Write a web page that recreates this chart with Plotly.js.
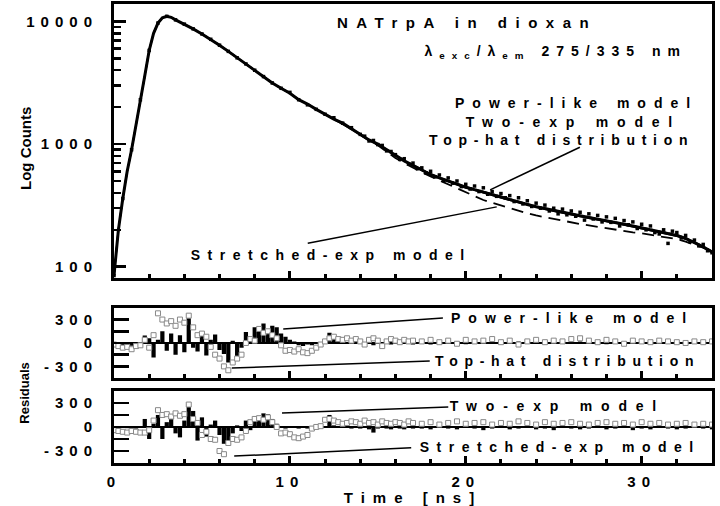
<!DOCTYPE html>
<html>
<head>
<meta charset="utf-8">
<script src="https://cdn.plot.ly/plotly-3.0.1.min.js"></script>
<style>
  body { margin: 0; background: #fff; }
  #chart { width: 720px; height: 506px; }
  [class$="tick"] text { letter-spacing: 6px; }
  text[class$="title"] { letter-spacing: 8px; }
  .annotation .annotation-text { letter-spacing: 7.5px; }
  .annotation[data-index="0"] .annotation-text,
  .annotation[data-index="1"] .annotation-text { letter-spacing: 0px; }
  .annotation[data-index="2"] .annotation-text { letter-spacing: 8.5px; }
  .annotation[data-index="3"] .annotation-text { letter-spacing: 7px; }
  .annotation[data-index="4"] .annotation-text,
  .annotation[data-index="8"] .annotation-text { letter-spacing: 8px; }
  .annotation[data-index="5"] .annotation-text,
  .annotation[data-index="10"] .annotation-text { letter-spacing: 8.8px; }
  .annotation[data-index="6"] .annotation-text,
  .annotation[data-index="9"] .annotation-text { letter-spacing: 6.7px; }
</style>
</head>
<body>
<div id="chart"></div>
<script>
// ---- decay data (counts vs time, ns) ----
const dataT = [0,0.5,1,1.5,2,2.5,3,3.5,4,4.5,5,5.5,6,6.5,7,7.5,8,8.5,9,9.5,10,10.5,11,11.5,12,12.5,13,13.5,14,
  14.25,14.5,14.75,15,15.25,15.5,15.75,16,16.25,16.5,16.75,17,17.25,17.5,17.75,18,18.25,18.5,18.75,19,19.25,19.5,19.75,20,
  20.25,20.5,20.75,21,21.25,21.5,21.75,22,22.25,22.5,22.75,23,23.25,23.5,23.75,24,24.25,24.5,24.75,25,25.25,25.5,25.75,26,
  26.25,26.5,26.75,27,27.25,27.5,27.75,28,28.25,28.5,28.75,29,29.25,29.5,29.75,30,30.25,30.5,30.75,31,31.25,31.5,31.75,32,
  32.25,32.5,32.75,33,33.25,33.5,33.75,34];
const dataCounts = [85,360,900,2300,5800,9700,11000,10300,9500,8700,7900,7150,6400,5700,5050,4500,4000,3550,3150,2850,2640,2300,2090,1920,1750,1640,1480,1360,1200,
  1160,1060,1070,990,975,880,870,820,750,760,690,700,630,640,580,600,540,560,505,530,480,500,450,470,
  430,455,410,440,390,410,375,395,365,380,340,365,325,345,310,330,300,318,285,300,270,295,265,285,
  258,278,240,270,245,262,232,255,230,248,215,238,220,232,205,222,200,215,190,185,200,155,195,190,
  172,180,160,165,148,152,135,130];

// ---- fitted model curves ----
const fitT = [0,0.25,0.5,0.75,1,1.25,1.5,1.75,2,2.25,2.5,2.75,3,3.25,3.5,
  4,4.5,5,5.5,6,6.5,7,7.5,8,8.5,9,9.5,10,10.5,11,11.5,12,12.5,13,13.5,14,14.5,15,15.5,16,16.5,17,17.5,18,18.5,19,19.5,
  20,20.5,21,21.5,22,22.5,23,23.5,24,24.5,25,25.5,26,26.5,27,27.5,28,28.5,29,29.5,30,30.5,31,31.5,32,32.5,33,33.5,34];
const fitPower = [85,200,360,600,900,1400,2300,3600,5800,8000,9700,10700,11000,10800,10300,
  9500,8700,7900,7150,6400,5700,5050,4500,4000,3550,3150,2850,2600,2300,2120,1920,1750,1600,1480,1330,1200,1080,1000,900,800,730,670,615,565,530,500,470,
  445,425,405,385,370,352,337,322,308,297,286,276,268,260,252,245,237,230,222,215,208,201,194,187,180,170,158,145,132];
const fitTwoExp = [85,200,360,600,900,1400,2300,3600,5800,8000,9700,10700,11000,10800,10300,
  9500,8700,7900,7150,6400,5700,5050,4500,4000,3550,3150,2850,2600,2300,2120,1920,1750,1600,1470,1320,1190,1075,990,890,795,725,665,610,560,525,495,465,
  440,420,400,382,366,349,334,319,305,294,283,273,265,257,249,242,234,227,219,212,205,198,191,184,177,168,157,145,133];
const fitTopHat = [85,200,360,600,900,1400,2300,3600,5800,8000,9700,10700,11000,10800,10300,
  9500,8700,7900,7150,6400,5700,5050,4500,4000,3550,3150,2850,2600,2300,2120,1920,1750,1600,1485,1335,1205,1085,1005,905,805,735,675,620,570,535,505,475,
  450,430,410,390,374,356,340,325,311,300,289,279,270,262,254,247,239,232,224,217,210,203,196,189,182,172,160,147,134];
const fitStretched = [85,200,360,600,900,1400,2300,3600,5800,8000,9700,10700,11000,10800,10300,
  9500,8700,7900,7150,6400,5700,5050,4500,4000,3550,3150,2850,2600,2300,2120,1920,1750,1600,1480,1330,1200,1070,980,870,770,700,640,590,545,505,475,440,
  405,375,350,332,315,300,285,273,262,253,245,237,230,223,217,211,206,201,196,191,187,182,178,173,168,160,152,143,133];

// ---- weighted residuals ----
const resT = [0,0.25,0.5,0.75,1,1.25,1.5,1.75,2,2.25,2.5,2.75,3,3.25,3.5,3.75,4,4.25,4.5,4.75,5,5.25,5.5,5.75,6,6.25,6.5,6.75,
  7,7.25,7.5,7.75,8,8.25,8.5,8.75,9,9.25,9.5,9.75,10,10.25,10.5,10.75,11,11.25,11.5,11.75,12,12.25,12.5,12.75,13,13.25,13.5,13.75,
  14,14.25,14.5,14.75,15,15.25,15.5,15.75,16,16.25,16.5,16.75,17,
  17.5,18,18.5,19,19.5,20,20.5,21,21.5,22,22.5,23,23.5,24,24.5,25,25.5,26,26.5,27,27.5,28,28.5,29,29.5,30,30.5,31,31.5,32,32.5,33,33.5,34];
const resPowerLike = [0,-10,-30,-45,-35,-50,-20,95,60,-185,40,150,-100,120,-150,100,-120,330,-60,-110,130,-160,40,110,-90,-140,-250,30,
  -190,-60,140,60,200,160,250,180,220,200,120,80,40,20,-30,-40,-20,-30,10,0,20,130,60,40,20,10,-10,20,
  0,-20,10,-30,20,-10,10,-20,0,20,-10,10,-20,
  10,-20,15,-10,20,-15,10,-5,15,-20,10,20,-10,15,-15,10,5,-10,20,-5,10,-15,15,-10,5,10,-20,15,-5,10,-10,20,-15,5];
const resTopHat = [-20,-40,-60,-50,-80,-40,-30,40,-60,100,380,300,250,280,220,300,260,350,200,100,120,80,-50,-150,-200,-300,-350,-250,
  -200,-150,0,50,30,180,130,150,100,60,-30,-100,-90,-110,-80,-120,-130,-100,-60,-20,20,60,80,50,40,60,30,50,
  20,-20,40,60,30,-40,20,50,30,10,40,20,30,
  20,40,10,30,-10,40,20,30,50,10,30,-20,20,40,10,30,20,50,60,30,10,40,20,-10,30,20,10,30,20,10,0,20,10,20];
const resTwoExp = [0,-5,-10,-15,-10,-20,-10,100,-150,40,150,-150,60,100,-80,-130,80,290,200,-170,120,-120,30,80,-100,-210,-230,-80,
  20,-50,80,-40,110,90,170,160,100,40,10,-20,-10,0,-20,-10,-20,0,-10,10,0,150,20,10,-10,0,-20,-10,
  -20,-10,-30,-70,-20,-10,-20,-30,-10,-20,-30,-10,-20,
  -20,-30,-10,-20,-30,-10,-20,-40,-20,-10,-30,-20,-10,-30,-20,-40,-10,-20,-30,-20,-10,-30,-20,-10,-40,-20,-30,-10,-20,-30,-20,-10,-20,-30];
const resStretched = [-40,-50,-60,-70,-50,-60,-70,-70,-40,80,210,150,160,130,170,140,160,280,100,50,-100,-60,-150,-160,-300,-340,-200,-150,
  -160,-130,-50,60,100,110,90,120,60,0,-80,-70,-90,-130,-140,-120,-100,-20,0,10,90,100,80,60,40,50,70,60,
  40,80,50,60,30,70,50,40,60,50,30,70,50,
  40,60,30,50,70,40,50,60,30,50,40,70,50,30,60,40,50,60,40,30,50,60,40,50,30,60,40,50,30,40,50,30,40,30];

// ---- tick labels ----
const xTickVals = [0,10,20,30];
const xTickText = ['0','10','20','30'];
const logTickVals = [100,1000,10000];
const logTickText = ['100','1000','10000'];
const resTickVals = [-300,0,300];
const resTickText = ['-300','0','300'];

const FONT = 'Liberation Sans, Arial, sans-serif';
const xMinor = [2,4,6,8,12,14,16,18,22,24,26,28,32];
const logMinor = [200,300,400,500,600,700,800,900,2000,3000,4000,5000,6000,7000,8000,9000];

const traces = [
  {x: fitT, y: fitPower, xaxis:'x', yaxis:'y', mode:'lines', name:'Power-like model', line:{color:'#000', width:3}},
  {x: fitT, y: fitTwoExp, xaxis:'x', yaxis:'y', mode:'lines', name:'Two-exp model', line:{color:'#000', width:1.5}},
  {x: fitT, y: fitTopHat, xaxis:'x', yaxis:'y', mode:'lines', name:'Top-hat distribution', line:{color:'#000', width:1.5, dash:'dashdot'}},
  {x: fitT, y: fitStretched, xaxis:'x', yaxis:'y', mode:'lines', name:'Stretched-exp model', line:{color:'#000', width:1.8, dash:'12px,7px'}},
  {x: dataT, y: dataCounts, xaxis:'x', yaxis:'y', mode:'markers', name:'Data',
   marker:{color:'#000', size:3.5, symbol:'square'}},

  {x: resT, y: resPowerLike, xaxis:'x2', yaxis:'y2', type:'bar', name:'Power-like model', width:0.24,
   marker:{color:'#000', line:{width:0}}},
  {x: resT, y: resTopHat, xaxis:'x2', yaxis:'y2', mode:'markers', name:'Top-hat distribution',
   marker:{symbol:'square', size:5, color:'#fff', line:{color:'#888', width:1}}},

  {x: resT, y: resTwoExp, xaxis:'x3', yaxis:'y3', type:'bar', name:'Two-exp model', width:0.24,
   marker:{color:'#000', line:{width:0}}},
  {x: resT, y: resStretched, xaxis:'x3', yaxis:'y3', mode:'markers', name:'Stretched-exp model',
   marker:{symbol:'square', size:5, color:'#fff', line:{color:'#888', width:1}}}
];

function xAx(anchor, labels) {
  return {
    anchor: anchor, domain:[0,1], range:[0,34], showgrid:false, zeroline:false,
    showline:true, linecolor:'#000', linewidth:3, mirror:true,
    tickmode:'array', tickvals:xTickVals, ticktext:xTickText, showticklabels:labels,
    ticks:'inside', ticklen:7, tickwidth:3, tickcolor:'#000',
    minor:{tickmode:'array', tickvals:xMinor, ticks:'inside', ticklen:4, tickwidth:3, tickcolor:'#000'},
    tickfont:{family:FONT, size:15, color:'#000', weight:'bold'}, ticklabelstandoff: 3
  };
}
function resAx(anchor, dom) {
  return {
    anchor: anchor, domain: dom, range:[-450,450], showgrid:false,
    zeroline:true, zerolinecolor:'#000', zerolinewidth:2.5,
    showline:true, linecolor:'#000', linewidth:3, mirror:true,
    tickmode:'array', tickvals:resTickVals, ticktext:resTickText,
    ticks:'inside', ticklen:15, tickwidth:2.5, tickcolor:'#000',
    minor:{tickmode:'array', tickvals:[-150,150], ticks:'inside', ticklen:15, tickwidth:2.5, tickcolor:'#000'},
    tickfont:{family:FONT, size:15, color:'#000', weight:'bold'}, ticklabelstandoff: 10
  };
}

const bold = {family:FONT, size:14, color:'#000', weight:'bold'};
const annotations = [
  {text:'Log Counts', x:-0.149, y:0.686, textangle:-90, font:{family:FONT, size:15, color:'#000', weight:'bold'}},
  {text:'Residuals', x:-0.149, y:0.153, textangle:-90, font:{family:FONT, size:13, color:'#000', weight:'bold'}},
  {text:'NATrpA in dioxan', x:0.590, y:0.959, font:{family:FONT, size:15, color:'#000', weight:'bold'}},
  {text:'λ<sub>exc</sub>/λ<sub>em</sub> 275/335 nm', x:0.739, y:0.895, font:bold},
  {text:'Power-like model', x:0.774, y:0.784, font:bold},
  {text:'Two-exp model', x:0.768, y:0.743, font:bold},
  {text:'Top-hat distribution', x:0.749, y:0.704, font:bold},
  {text:'Stretched-exp model', x:0.363, y:0.453, font:bold},
  {text:'Power-like model', x:0.766, y:0.316, font:bold},
  {text:'Top-hat distribution', x:0.758, y:0.222, font:bold},
  {text:'Two-exp model', x:0.741, y:0.124, font:bold},
  {text:'Stretched-exp model', x:0.746, y:0.035, font:bold}
].map(a => Object.assign({xref:'paper', yref:'paper', showarrow:false, xanchor:'center', yanchor:'middle'}, a));

const pointer = (x0,y0,x1,y1) => ({type:'line', xref:'paper', yref:'paper', x0, y0, x1, y1, line:{color:'#000', width:1.5}});
const shapes = [
  pointer(0.779,0.688,0.629,0.595),
  pointer(0.324,0.479,0.640,0.558),
  pointer(0.283,0.292,0.550,0.316),
  pointer(0.197,0.207,0.528,0.222),
  pointer(0.281,0.109,0.559,0.122),
  pointer(0.201,0.015,0.497,0.033)
];

const layout = {
  width:720, height:506, margin:{l:114, r:8, t:4, b:43},
  paper_bgcolor:'#fff', plot_bgcolor:'#fff', showlegend:false, barmode:'overlay',
  font:{family:FONT, color:'#000'},
  xaxis: xAx('y', false),
  xaxis2: Object.assign(xAx('y2', false), {matches:'x'}),
  xaxis3: Object.assign(xAx('y3', true), {matches:'x',
    title:{text:'Time [ns]', font:{family:FONT, size:15, color:'#000', weight:'bold'}, standoff:7}}),
  yaxis: {
    anchor:'x', domain:[0.403,1], type:'log', range:[1.908,4.142], showgrid:false, zeroline:false,
    showline:true, linecolor:'#000', linewidth:3, mirror:true,
    tickmode:'array', tickvals:logTickVals, ticktext:logTickText,
    ticks:'inside', ticklen:12, tickwidth:2.5, tickcolor:'#000',
    minor:{tickmode:'array', tickvals:logMinor, ticks:'inside', ticklen:7, tickwidth:2.5, tickcolor:'#000'},
    tickfont:{family:FONT, size:15, color:'#000', weight:'bold'}, ticklabelstandoff: 10
  },
  yaxis2: resAx('x2', [0.185,0.338]),
  yaxis3: resAx('x3', [0,0.157]),
  annotations, shapes
};

Plotly.newPlot('chart', traces, layout, {staticPlot:true, displayModeBar:false});
</script>
</body>
</html>
